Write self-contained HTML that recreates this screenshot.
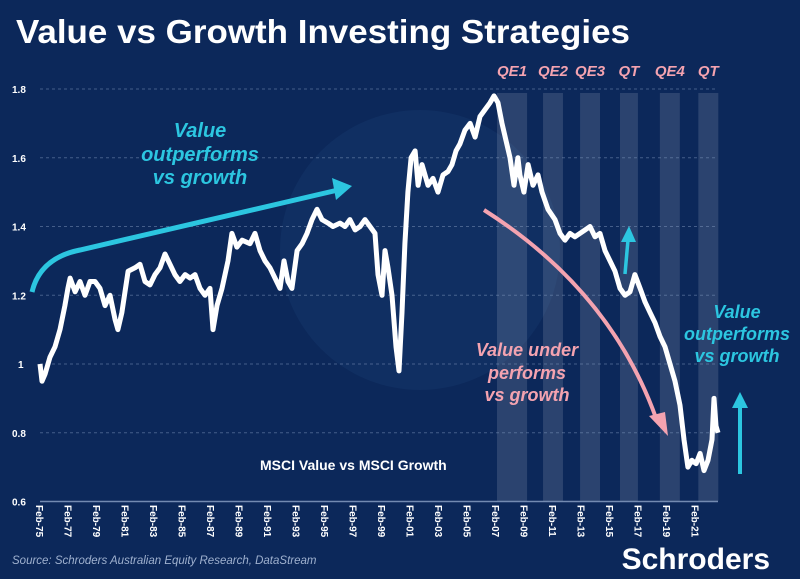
<!DOCTYPE html>
<html><head><meta charset="utf-8"><style>
body{margin:0;background:#0c285a;}
svg{display:block;font-family:"Liberation Sans",sans-serif;}
</style></head><body>
<svg width="800" height="579" viewBox="0 0 800 579">
<rect width="800" height="579" fill="#0c285a"/>
<circle cx="420" cy="250" r="140" fill="#133569" opacity="0.5"/>
<text x="16" y="43" fill="#fff" font-size="33" font-weight="bold" textLength="614" lengthAdjust="spacingAndGlyphs">Value vs Growth Investing Strategies</text>
<g id="bands"></g><g id="grid"></g><g id="xlabels"></g>
<path id="line" fill="none" stroke="#fff" stroke-width="5" stroke-linejoin="round"/>
<g id="bandlabels"></g>
<text x="260" y="470" fill="#fff" font-size="14" font-weight="bold">MSCI Value vs MSCI Growth</text>
<g fill="#2cc6e0" font-size="20" font-weight="bold" font-style="italic" text-anchor="middle">
<text x="200" y="137">Value</text><text x="200" y="161">outperforms</text><text x="200" y="184">vs growth</text></g>
<path d="M32 292 Q40 258 80 250 L338 190" stroke="#2cc6e0" stroke-width="5" fill="none"/>
<polygon points="352,186 332,178 336,200" fill="#2cc6e0"/>
<g fill="#f4a3b0" font-size="18" font-weight="bold" font-style="italic" text-anchor="middle">
<text x="527" y="356">Value under</text><text x="527" y="379">performs</text><text x="527" y="401">vs growth</text></g>
<path d="M484 210 Q610 290 656 418" stroke="#f4a3b0" stroke-width="4" fill="none"/>
<polygon points="668,436 649,416 665,412" fill="#f4a3b0"/>
<g fill="#2cc6e0" font-size="18" font-weight="bold" font-style="italic" text-anchor="middle">
<text x="737" y="318">Value</text><text x="737" y="340">outperforms</text><text x="737" y="362">vs growth</text></g>
<line x1="740" y1="474" x2="740" y2="406" stroke="#2cc6e0" stroke-width="4"/>
<polygon points="740,392 732,408 748,408" fill="#2cc6e0"/>
<line x1="625" y1="274" x2="628" y2="240" stroke="#2cc6e0" stroke-width="3.5"/>
<polygon points="629,226 621,242 636,242" fill="#2cc6e0"/>
<text x="12" y="564" fill="#9fb1cf" font-size="11.5" font-style="italic">Source: Schroders Australian Equity Research, DataStream</text>
<text x="770" y="569" fill="#fff" font-size="30" font-weight="bold" text-anchor="end">Schroders</text>
</svg>
<script>
const years=[1975.0,1975.14,1975.35,1975.70,1976.05,1976.40,1976.75,1976.96,1977.11,1977.46,1977.81,1978.16,1978.51,1978.86,1979.21,1979.56,1979.91,1980.26,1980.47,1980.75,1981.18,1981.67,1982.02,1982.37,1982.72,1983.07,1983.42,1983.77,1984.12,1984.47,1984.82,1985.18,1985.53,1985.88,1986.23,1986.58,1986.93,1987.14,1987.42,1987.77,1988.19,1988.47,1988.82,1989.18,1989.74,1990.09,1990.44,1990.79,1991.14,1991.49,1991.84,1992.12,1992.40,1992.68,1993.04,1993.39,1993.74,1994.09,1994.44,1994.79,1995.21,1995.56,1996.05,1996.40,1996.75,1997.11,1997.46,1997.81,1998.16,1998.51,1998.72,1999.00,1999.21,1999.42,1999.70,1999.98,2000.19,2000.40,2000.61,2000.82,2001.04,2001.32,2001.53,2001.81,2002.23,2002.58,2002.93,2003.28,2003.63,2003.91,2004.19,2004.47,2004.82,2005.18,2005.53,2005.88,2006.23,2006.58,2006.86,2007.14,2007.42,2007.70,2007.98,2008.26,2008.54,2008.68,2008.96,2009.25,2009.60,2009.95,2010.23,2010.65,2011.14,2011.49,2011.84,2012.19,2012.54,2012.89,2013.25,2013.60,2013.95,2014.30,2014.65,2015.00,2015.35,2015.70,2016.05,2016.40,2016.75,2017.11,2017.46,2017.81,2018.16,2018.51,2018.86,2019.21,2019.56,2019.91,2020.19,2020.47,2020.75,2021.04,2021.32,2021.60,2021.88,2022.16,2022.30,2022.44,2022.58];
const values=[1.0,0.95,0.97,1.02,1.05,1.10,1.17,1.22,1.25,1.21,1.24,1.20,1.24,1.24,1.22,1.17,1.20,1.13,1.10,1.15,1.27,1.28,1.29,1.24,1.23,1.26,1.28,1.32,1.29,1.26,1.24,1.26,1.25,1.26,1.22,1.20,1.22,1.10,1.17,1.22,1.30,1.38,1.34,1.36,1.35,1.38,1.33,1.30,1.28,1.25,1.22,1.30,1.24,1.22,1.33,1.35,1.38,1.42,1.45,1.42,1.41,1.40,1.41,1.40,1.42,1.39,1.40,1.42,1.40,1.38,1.26,1.20,1.33,1.28,1.20,1.05,0.98,1.15,1.35,1.50,1.60,1.62,1.52,1.58,1.52,1.54,1.50,1.55,1.56,1.58,1.62,1.64,1.68,1.70,1.66,1.72,1.74,1.76,1.78,1.76,1.70,1.65,1.60,1.52,1.60,1.55,1.50,1.58,1.52,1.55,1.50,1.45,1.42,1.38,1.36,1.38,1.37,1.38,1.39,1.40,1.37,1.38,1.33,1.30,1.27,1.22,1.20,1.21,1.26,1.22,1.18,1.15,1.12,1.08,1.05,1.0,0.95,0.88,0.78,0.70,0.72,0.71,0.74,0.69,0.72,0.78,0.90,0.82,0.80];
const yTicks=[0.6,0.8,1,1.2,1.4,1.6,1.8];
const xTickLabels=["Feb-75","Feb-77","Feb-79","Feb-81","Feb-83","Feb-85","Feb-87","Feb-89","Feb-91","Feb-93","Feb-95","Feb-97","Feb-99","Feb-01","Feb-03","Feb-05","Feb-07","Feb-09","Feb-11","Feb-13","Feb-15","Feb-17","Feb-19","Feb-21"];
const bandNames=["QE1","QE2","QE3","QT","QE4","QT"];
const bandStart=[2007.07,2010.3,2012.9,2015.7,2018.5,2021.2];
const bandEnd=[2009.18,2011.7,2014.3,2016.96,2019.9,2022.6];
const NS="http://www.w3.org/2000/svg";
const X=y=>40+(y-1975)*14.25;
const Y=v=>364-(v-1)*343.75;
function mk(t,a,p){const e=document.createElementNS(NS,t);for(const k in a)e.setAttribute(k,a[k]);p.appendChild(e);return e;}
const bands=document.getElementById('bands'),bl=document.getElementById('bandlabels');
bandNames.forEach((n,i)=>{
 const r=mk('rect',{x:X(bandStart[i]),y:93,width:X(bandEnd[i])-X(bandStart[i]),height:408,fill:'#ffffff','fill-opacity':0.13},bands);
 
 
 const t=mk('text',{x:(X(bandStart[i])+X(bandEnd[i]))/2,y:76,fill:'#f4a3b0','font-size':15,'font-weight':'bold','font-style':'italic','text-anchor':'middle'},bl);
 t.textContent=n;
 
 
});
const g=document.getElementById('grid');
yTicks.forEach(v=>{
 const l=mk('line',{x1:40,x2:718,y1:Y(v),y2:Y(v),stroke:'#7f95bb','stroke-width':v===0.6?1.5:1,'stroke-dasharray':v===0.6?'':'3 3',opacity:v===0.6?0.9:0.5},g);
 
 
 const t=mk('text',{x:v===1?18:12,y:Y(v)+4,fill:'#fff','font-size':10,'font-weight':'bold'},g);
 t.textContent=String(v);
 
 
});
const xl=document.getElementById('xlabels');
xTickLabels.forEach((s,i)=>{
 const x=X(1975+2*i);
 const t=mk('text',{x:0,y:0,fill:'#fff','font-size':10,'font-weight':'bold',transform:`translate(${x-4},505) rotate(90)`},xl);
 t.textContent=s;
 
 
});
document.getElementById('line').setAttribute('d',years.map((y,i)=>(i?'L':'M')+X(y).toFixed(1)+' '+Y(values[i]).toFixed(1)).join(' '));
</script>
</body></html>
